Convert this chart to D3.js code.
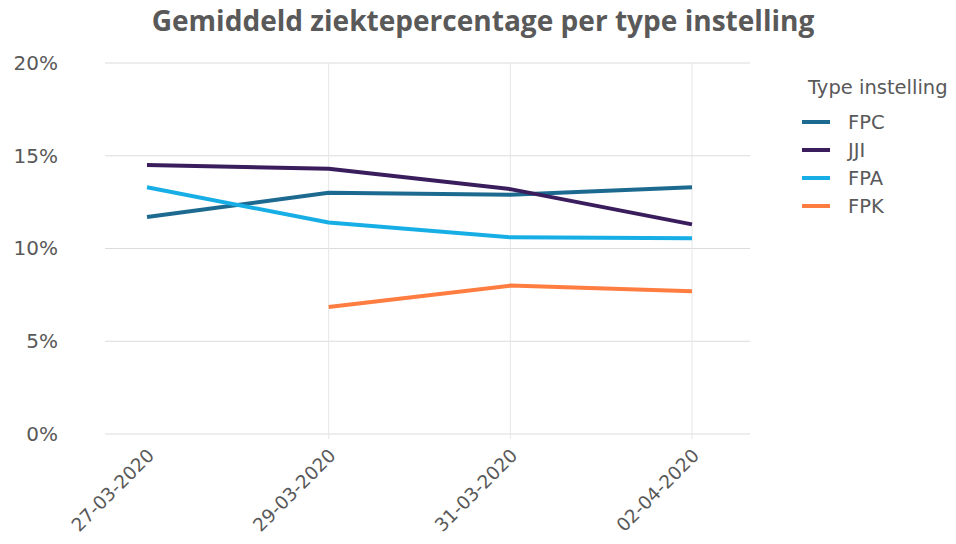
<!DOCTYPE html>
<html>
<head>
<meta charset="utf-8">
<script src="https://cdn.jsdelivr.net/npm/d3@7"></script>
<style>
  body { margin: 0; background: #fff; }
  svg { display: block; }
</style>
</head>
<body>
<div id="canvas"></div>
<script>
"use strict";

let svgWidth = 956;
let svgHeight = 544;

// data
let dates = ["2020-03-27", "2020-03-29", "2020-03-31", "2020-04-02"];
let seriesNames = ["FPC", "JJI", "FPA", "FPK"];
let FPC = [11.7, 13.0, 12.9, 13.3];
let JJI = [14.5, 14.3, 13.2, 11.3];
let FPA = [13.3, 11.4, 10.6, 10.55];
let FPK = [null, 6.85, 8.0, 7.7];
let yTicks = [0, 5, 10, 15, 20];
let colors = ["#1d6a90", "#3a1d5c", "#17aee6", "#ff7d40"];

let parse = d3.timeParse("%Y-%m-%d");
let fmt = d3.timeFormat("%d-%m-%Y");
let dateObjs = dates.map(parse);
let seriesValues = [FPC, JJI, FPA, FPK];

let labelFont = "DejaVu Sans, Verdana, sans-serif";

let svg = d3.select("#canvas")
  .append("svg")
  .attr("width", svgWidth)
  .attr("height", svgHeight);

let xScale = d3.scaleTime()
  .domain(d3.extent(dateObjs))
  .range([147, 692]);

let yScale = d3.scaleLinear()
  .domain([0, 20])
  .range([434, 63]);

let gridLeft = 105, gridRight = 750;

/* gridlines */
svg.append("g")
  .selectAll("line")
  .data(yTicks)
  .enter()
  .append("line")
  .attr("x1", gridLeft)
  .attr("x2", gridRight)
  .attr("y1", function(d){ return yScale(d); })
  .attr("y2", function(d){ return yScale(d); })
  .attr("stroke", "#dcdcdc")
  .attr("stroke-width", 1);

svg.append("g")
  .selectAll("line")
  .data(dateObjs.slice(1))
  .enter()
  .append("line")
  .attr("x1", function(d){ return xScale(d); })
  .attr("x2", function(d){ return xScale(d); })
  .attr("y1", yScale(20))
  .attr("y2", yScale(0) + 5)
  .attr("stroke", "#e6e6e6")
  .attr("stroke-width", 1);

/* y axis labels */
let yAxis = svg.append("g")
  .attr("transform", "translate(58,0)")
  .call(d3.axisLeft(yScale).tickValues(yTicks).tickSize(0).tickPadding(0)
    .tickFormat(function(d){ return d + "%"; }));
yAxis.select(".domain").remove();
yAxis.selectAll("text")
  .attr("fill", "#595959")
  .style("font-family", labelFont)
  .style("font-size", "20px");

/* x axis labels */
let xAxis = svg.append("g")
  .attr("transform", "translate(0," + yScale(0) + ")")
  .call(d3.axisBottom(xScale).tickValues(dateObjs).tickSize(0).tickFormat(fmt));
xAxis.select(".domain").remove();
xAxis.selectAll("text")
  .attr("fill", "#595959")
  .style("font-family", labelFont)
  .style("font-size", "18.5px")
  .attr("text-anchor", "end")
  .attr("dy", "0.35em")
  .attr("transform", "translate(1,16) rotate(-45)");

/* lines */
let line = d3.line()
  .defined(function(d){ return d.v !== null; })
  .x(function(d){ return xScale(d.date); })
  .y(function(d){ return yScale(d.v); });

seriesValues.forEach(function(vals, i) {
  let pts = vals.map(function(v, j){ return { date: dateObjs[j], v: v }; });
  svg.append("path")
    .datum(pts)
    .attr("fill", "none")
    .attr("stroke", colors[i])
    .attr("stroke-width", 4)
    .attr("stroke-linejoin", "round")
    .attr("d", line);
});

/* title */
let title = svg.append("text")
  .attr("x", 483)
  .attr("y", 31)
  .attr("text-anchor", "middle")
  .attr("fill", "#595959")
  .style("font-family", "Open Sans, sans-serif")
  .style("font-weight", "bold")
  .style("font-size", "20px")
  .text("Gemiddeld ziektepercentage per type instelling");
// fit the title to the width seen in the picture
let tw = title.node().getComputedTextLength();
title.style("font-size", (20 * 663 / tw).toFixed(2) + "px");

/* legend */
let legX = 802, legY = 122;
svg.append("text")
  .attr("x", 808)
  .attr("y", 94)
  .attr("fill", "#595959")
  .style("font-family", labelFont)
  .style("font-size", "19.5px")
  .text("Type instelling");

for (let i = 0; i < seriesNames.length; i++) {
  let y = legY + i * 28;
  svg.append("line")
    .attr("x1", legX)
    .attr("x2", legX + 28)
    .attr("y1", y)
    .attr("y2", y)
    .attr("stroke", colors[i])
    .attr("stroke-width", 4);
  svg.append("text")
    .attr("x", 848)
    .attr("y", y + 7)
    .attr("fill", "#595959")
    .style("font-family", labelFont)
    .style("font-size", "19.5px")
    .text(seriesNames[i]);
}
</script>
</body>
</html>
